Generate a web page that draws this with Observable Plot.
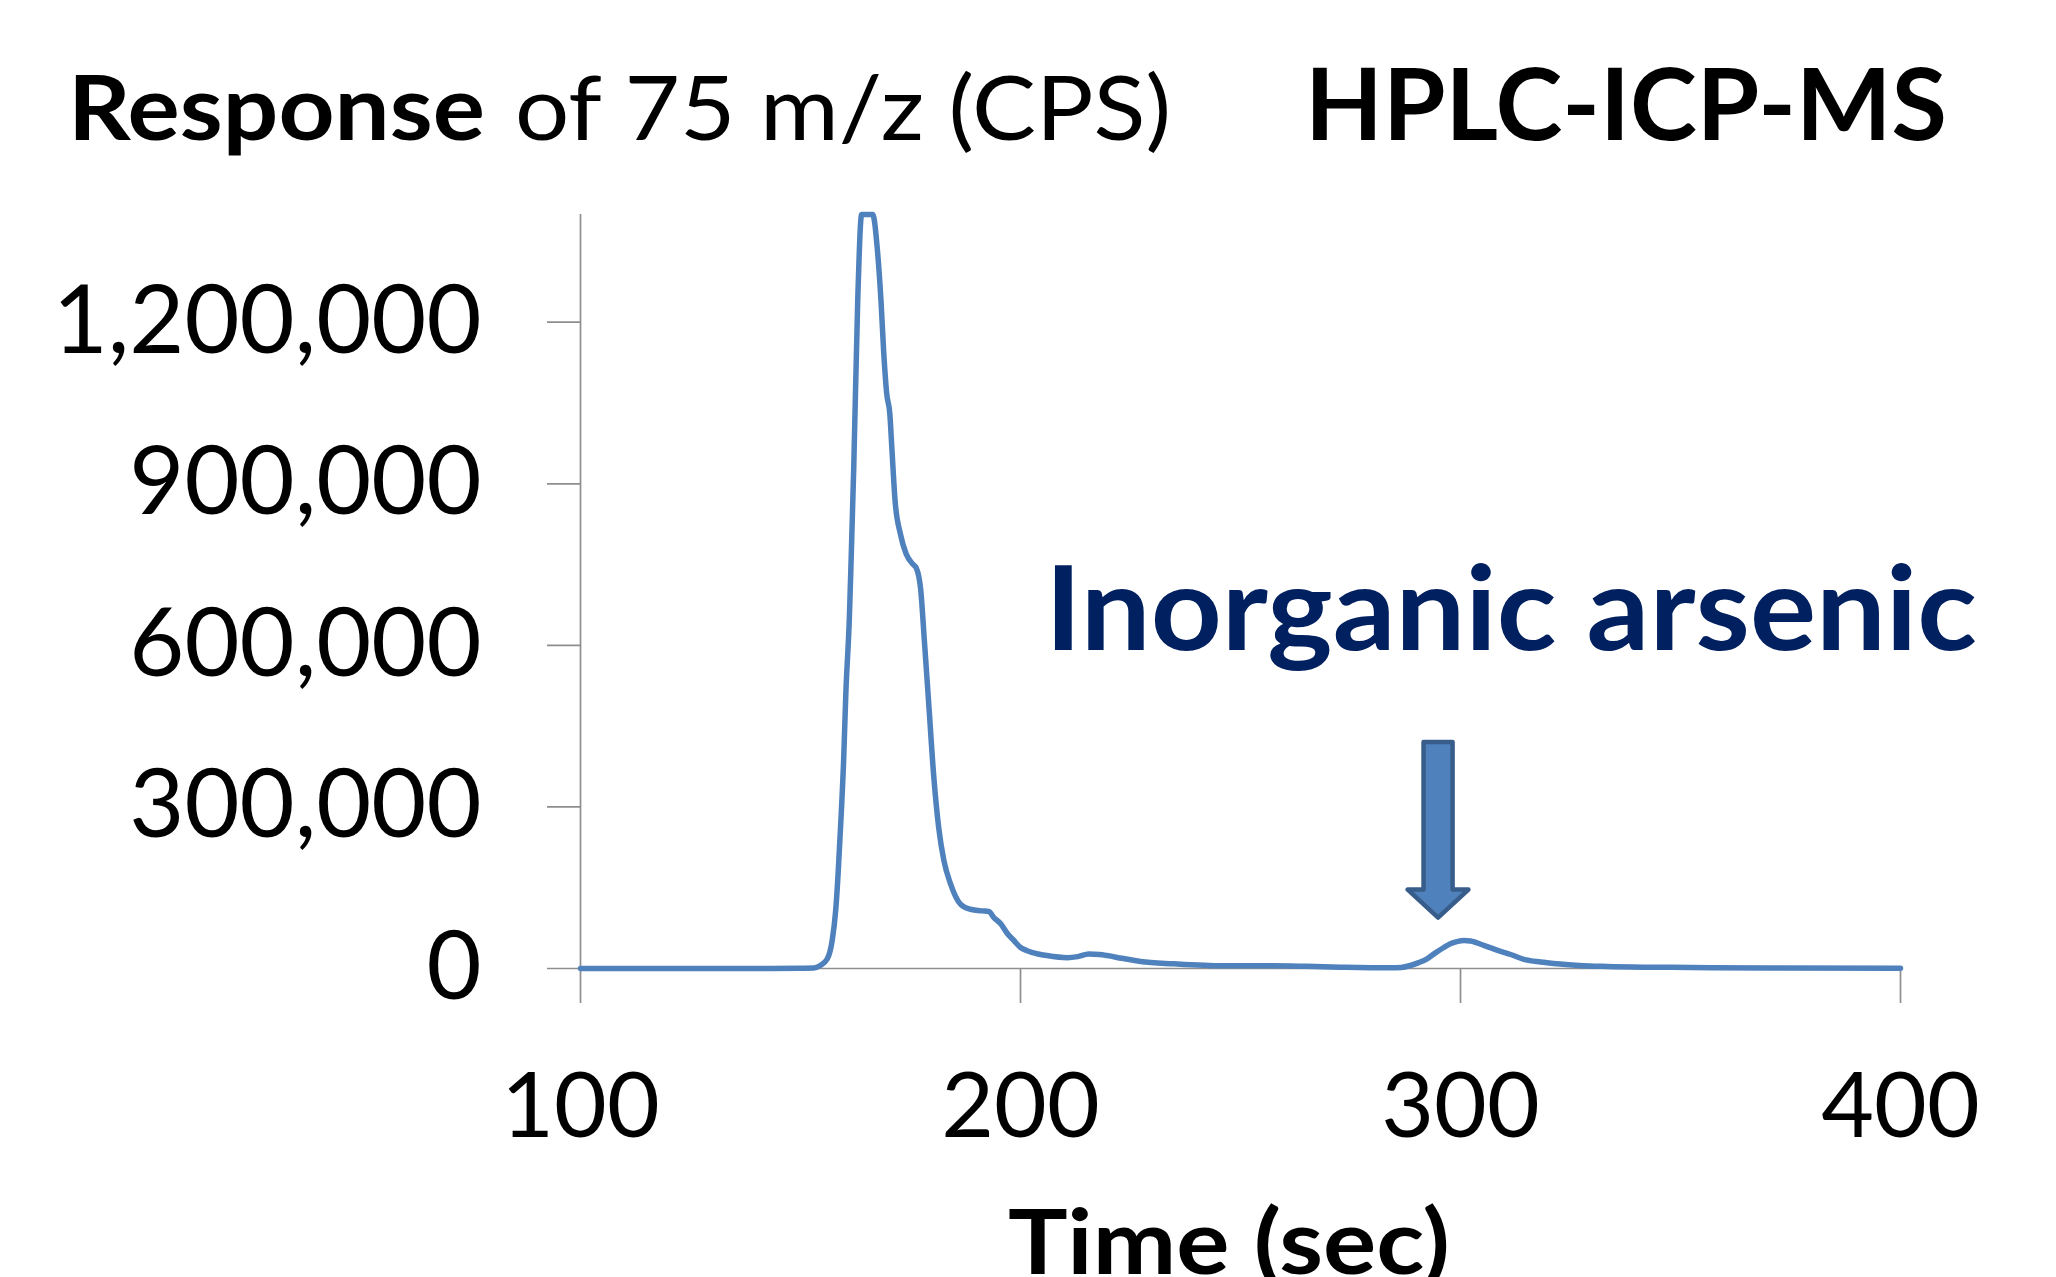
<!DOCTYPE html>
<html><head><meta charset="utf-8">
<script src="https://cdn.jsdelivr.net/npm/d3@7"></script>
<script src="https://cdn.jsdelivr.net/npm/@observablehq/plot@0.6"></script>
<style>html,body{margin:0;padding:0;background:#fff;overflow:hidden}#wrap{position:relative;width:2056px;height:1277px}#wrap>svg{position:absolute;left:0;top:0}</style>
</head><body><div id="wrap"></div>
<script>
// Chromatogram: retention time (sec) and response of 75 m/z (CPS)
const time = [100, 120, 140, 150, 153, 154.5, 156.1, 157.2, 158.0, 158.5, 159.1, 159.8, 160.3, 161.1, 161.5, 162.1, 163.0, 163.9, 164.5, 165.5, 166.4, 167.5, 168.3, 168.9, 169.6, 170.3, 170.8, 171.5, 172.7, 174.0, 175.5, 176.3, 177.3, 178.2, 179.2, 180.3, 181.4, 182.6, 184.1, 186.4, 188.6, 191.3, 192.8, 193.9, 195.5, 197.0, 198.5, 200.0, 201.5, 204.0, 206.0, 210.6, 213.0, 215.5, 218.0, 219.7, 223.0, 227.3, 234.8, 246.0, 257.6, 265.0, 272.7, 284.1, 286.5, 288.6, 290.5, 292.4, 294.3, 296.2, 297.7, 299.2, 300.8, 302.3, 305.3, 308.3, 311.4, 314.4, 318.2, 322.0, 327.0, 333.4, 342.0, 352.3, 370.0, 400.0];
const response = [0, 0, 0, 500, 800, 5600, 18000, 52000, 108000, 169000, 262000, 386000, 510000, 650000, 757000, 930000, 1239000, 1420000, 1500000, 1500000, 1420000, 1332000, 1239000, 1146000, 1067000, 1030000, 961000, 868000, 807000, 770000, 751000, 744000, 705000, 603000, 485000, 355000, 262000, 200000, 157000, 119000, 110000, 107000, 106000, 95000, 83000, 65000, 52000, 39000, 33000, 27000, 24000, 20000, 22000, 27000, 26000, 24000, 19000, 13000, 8700, 5000, 5000, 4000, 2500, 1200, 2000, 5600, 11000, 18000, 29000, 39000, 46000, 50000, 52000, 51000, 43000, 34000, 26000, 17000, 12000, 8700, 5500, 3700, 2500, 1900, 1000, 500];

const xTicks = [100, 200, 300, 400];
const yTicks = [0, 300000, 600000, 900000, 1200000];

// Block arrow pointing at the inorganic arsenic peak (outline in data units)
const arrowTime = [291.6, 298.2, 298.2, 301.8, 294.9, 288.0, 291.6];
const arrowResponse = [420500, 420500, 146500, 146500, 94600, 146500, 146500];

const titleBold = "Response";
const titleRest = "of 75 m/z (CPS)";
const methodLabel = "HPLC-ICP-MS";
const peakLabel = "Inorganic arsenic";
const xLabel = "Time (sec)";

const data = time.map((t, i) => ({t, v: response[i]}));
const arrow = arrowTime.map((t, i) => ({t, v: arrowResponse[i]}));

const axisColor = "#8e8e8e";

const chart = Plot.plot({
  width: 2056, height: 1277,
  marginLeft: 580, marginRight: 156, marginTop: 214, marginBottom: 309,
  style: {fontFamily: "Lato, 'Open Sans', sans-serif", background: "#fff", color: "#000"},
  x: {domain: [100, 400]},
  y: {domain: [0, 1400000], clamp: true},
  marks: [
    Plot.ruleY([0], {stroke: axisColor, strokeWidth: 1.7}),
    Plot.ruleX([100], {stroke: axisColor, strokeWidth: 1.7}),
    Plot.axisX({ticks: xTicks, tickSize: 35, tickPadding: 69, fontSize: 91, stroke: axisColor, strokeWidth: 1.7, label: null, tickFormat: d => String(d)}),
    Plot.axisY({ticks: yTicks, tickSize: 33, tickPadding: 66, fontSize: 95, stroke: axisColor, strokeWidth: 1.7, label: null, tickFormat: d3.format(",")}),
    Plot.line(arrow, {x: "t", y: "v", curve: "linear-closed", fill: "#4F81BD", stroke: "#385D8A", strokeWidth: 4.5}),
    Plot.line(data, {x: "t", y: "v", stroke: "#4F81BD", strokeWidth: 5.5, curve: "monotone-x"})
  ]
});
const wrap = document.getElementById("wrap");
wrap.appendChild(chart);

// Titles and labels in a transparent overlay SVG
const overlay = d3.select(wrap).append("svg")
  .attr("width", 2056).attr("height", 1277)
  .style("pointer-events", "none");
function addText(str, x, y, size, weight, fill, len) {
  overlay.append("text")
    .attr("x", x).attr("y", y)
    .attr("text-anchor", "start")
    .attr("font-family", "Lato, 'Open Sans', sans-serif")
    .attr("font-size", size).attr("font-weight", weight)
    .attr("fill", fill)
    .attr("textLength", len).attr("lengthAdjust", "spacingAndGlyphs")
    .text(str);
}
addText(titleBold, 68, 140, 89, "bold", "#000", 417);
addText(titleRest, 515, 140, 89, "normal", "#000", 656);
addText(methodLabel, 1305, 140, 100, "bold", "#000", 642);
addText(peakLabel, 1045, 650, 117, "bold", "#002060", 932);
addText(xLabel, 1008, 1274, 90, "bold", "#000", 442);
</script>
</body></html>
